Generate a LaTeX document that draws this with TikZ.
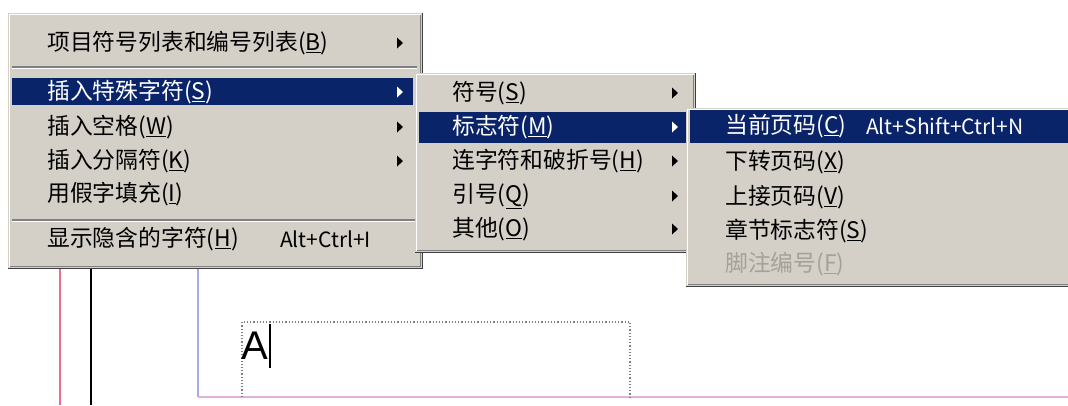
\documentclass[tikz,border=0pt]{standalone}
\usepackage{fontspec}
\setmainfont{Noto Sans CJK SC}
\newfontfamily\latinfont{Liberation Sans}
\definecolor{menugray}{HTML}{D4D0C8}
\definecolor{menusel}{HTML}{0A246A}
\definecolor{menushade}{HTML}{808080}
\definecolor{menudark}{HTML}{404040}
\definecolor{marginred}{HTML}{E8708C}
\definecolor{marginblue}{HTML}{A8A8F0}
\definecolor{marginpink}{HTML}{E0B0E0}
\definecolor{greytext}{HTML}{A4A09A}
\tikzset{
  item/.style={anchor=west, inner sep=0pt, font=\fontsize{22.8}{24}\selectfont},
  chosen/.style={item, text=white},
  greyed/.style={item, text=greytext},
  keys/.style={item, font=\fontsize{21}{24}\selectfont},
}
% a classic 3D menu panel: x1, y1, x2, y2
\newcommand{\menupanel}[4]{%
  \fill[menugray] (#1,#2) rectangle (#3,#4);
  \draw[white, line width=1.5pt] (#1+1.5,#4-2) -- (#1+1.5,#2+1.5) -- (#3-2,#2+1.5);
  \draw[menushade, line width=1.5pt] (#1+2,#4-2.5) -- (#3-2.5,#4-2.5) -- (#3-2.5,#2+2);
  \draw[menudark, line width=1.5pt] (#1,#4-0.75) -- (#3-0.75,#4-0.75) -- (#3-0.75,#2);
}
% submenu mark: x, y, colour
\newcommand{\submark}[3]{\fill[#3] (#1,#2-5.5) -- (#1+6,#2) -- (#1,#2+5.5) -- cycle;}
% separator line: x1, x2, y
\newcommand{\menusep}[3]{%
  \draw[menushade, line width=1.2pt] (#1,#3) -- (#2,#3);
  \draw[white, line width=1.2pt] (#1,#3+1.5) -- (#2,#3+1.5);
}

\begin{document}
\begin{tikzpicture}[x=1pt, y=-1pt]
  \useasboundingbox (0,0) rectangle (1068,405);
  \clip (0,0) rectangle (1068,405);
  \fill[white] (0,0) rectangle (1068,405);

  % page underneath
  \draw[marginred, line width=1.5pt] (60,260) -- (60,405);
  \draw[black, line width=1.5pt] (91,260) -- (91,405);
  \draw[marginblue, line width=1.5pt] (198,250) -- (198,397);
  \draw[marginpink, line width=2pt] (198,397) -- (1068,397);
  \draw[gray, line width=1.2pt, dotted] (242,397) -- (242,322) -- (630,322) -- (630,397);
  \node[anchor=south west, inner sep=0pt, font=\latinfont\fontsize{40}{40}\selectfont] (letter) at (241,360) {A};
  \draw[black, line width=1.2pt] (270,324) -- (270,368);

  % first menu
  \menupanel{8}{13}{423}{269}
  \menusep{12}{417}{67}
  \menusep{12}{417}{220}
  \fill[menusel] (12,78) rectangle (413,105);
  \node[item] (bullets) at (47,43) {项目符号列表和编号列表(\underline{B})};
  \node[chosen] (special) at (47,92) {插入特殊字符(\underline{S})};
  \node[item] (space) at (47,127) {插入空格(\underline{W})};
  \node[item] (breaks) at (47,161) {插入分隔符(\underline{K})};
  \node[item] (filler) at (47,194) {用假字填充(\underline{I})};
  \node[item] (hidden) at (47,239) {显示隐含的字符(\underline{H})};
  \node[keys] (hiddenkey) at (280,239) {Alt+Ctrl+I};
  \submark{397}{43}{black}
  \submark{397}{92}{white}
  \submark{397}{127}{black}
  \submark{397}{161}{black}

  % second menu
  \menupanel{415}{73}{696}{253}
  \fill[menusel] (419,112) rectangle (686,143);
  \node[item] (symbols) at (452,93) {符号(\underline{S})};
  \node[chosen] (markers) at (452,127) {标志符(\underline{M})};
  \node[item] (dashes) at (452,161) {连字符和破折号(\underline{H})};
  \node[item] (quotes) at (452,196) {引号(\underline{Q})};
  \node[item] (others) at (452,229) {其他(\underline{O})};
  \submark{672}{93}{black}
  \submark{672}{127}{white}
  \submark{672}{161}{black}
  \submark{672}{196}{black}
  \submark{672}{229}{black}

  % third menu
  \menupanel{686}{108}{1090}{287}
  \fill[menusel] (690,110) rectangle (1080,143);
  \node[chosen] (current) at (725,126) {当前页码(\underline{C})};
  \node[keys, text=white] (currentkey) at (866,126) {Alt+Shift+Ctrl+N};
  \node[item] (nextpage) at (725,162) {下转页码(\underline{X})};
  \node[item] (prevpage) at (725,197) {上接页码(\underline{V})};
  \node[item] (section) at (725,231) {章节标志符(\underline{S})};
  \node[greyed] (footnote) at (725,264) {脚注编号(\underline{F})};
\end{tikzpicture}
\end{document}
